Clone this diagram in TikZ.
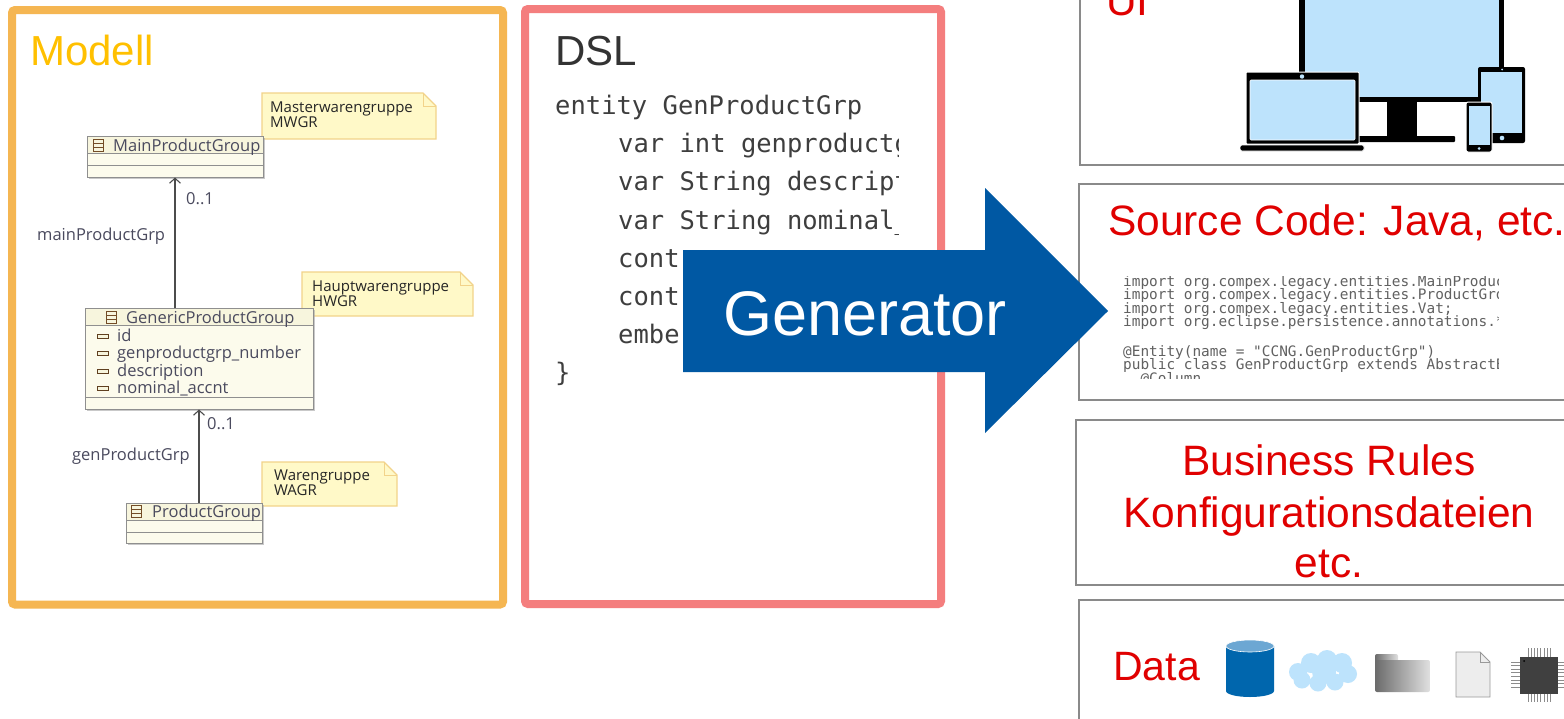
\documentclass[tikz,border=0pt]{standalone}
\usepackage{fontspec}
\setmainfont{Liberation Sans}
\setmonofont{DejaVu Sans Mono}
\newfontfamily\umlfont{Open Sans}
\usetikzlibrary{arrows.meta,shadows}

\definecolor{modellorange}{HTML}{F5B652}
\definecolor{modelltitle}{HTML}{FFC000}
\definecolor{dslpink}{HTML}{F47E7E}
\definecolor{genblue}{HTML}{0058A3}
\definecolor{outred}{HTML}{E00000}
\definecolor{outgray}{HTML}{8A8A8A}
\definecolor{screenblue}{HTML}{BDE3FC}
\definecolor{classfill}{HTML}{FCFBEC}
\definecolor{classhead}{HTML}{F7F5DD}
\definecolor{classline}{HTML}{8F8F8F}
\definecolor{notefill}{HTML}{FFF9C8}
\definecolor{noteline}{HTML}{F2D38A}
\definecolor{umltext}{HTML}{4A4A5E}
\definecolor{codegray}{HTML}{3E3E3E}
\definecolor{dbblue}{HTML}{0066AD}
\definecolor{dbtop}{HTML}{6CA7D3}

\begin{document}
\begin{tikzpicture}[x=1pt,y=-1pt,
  frame/.style={draw, line width=8pt, rounded corners=3pt, inner sep=0pt},
  outbox/.style={draw=outgray, line width=2.2pt},
  title/.style={anchor=base west, inner sep=0pt, font=\fontsize{42}{48}\selectfont},
  outtext/.style={inner sep=0pt, text=outred, font=\fontsize{42.5}{50}\selectfont},
  classbox/.style={draw=classline, line width=1pt, fill=classfill, inner sep=0pt,
    drop shadow={shadow xshift=1.5pt, shadow yshift=-1.5pt, fill=black!35, opacity=0.6}},
  classname/.style={anchor=base west, inner sep=0pt, text=umltext, font=\umlfont\fontsize{16.5}{18}\selectfont},
  attr/.style={anchor=base west, inner sep=0pt, text=umltext, font=\umlfont\fontsize{16.5}{18}\selectfont},
  notetext/.style={anchor=base west, inner sep=0pt, text=black!85, font=\umlfont\fontsize{15}{17}\selectfont},
  notebox/.style={fill=notefill, draw=noteline, line width=1.2pt},
  umlarrow/.style={draw=black!70, line width=1.1pt, -{Straight Barb[length=5pt,width=11pt,line width=1.1pt]}},
  dslcode/.style={anchor=base west, inner sep=0pt, text=codegray, font=\ttfamily\fontsize{25.5}{30}\selectfont},
  javacode/.style={anchor=base west, inner sep=0pt, text=black!62, font=\ttfamily\fontsize{14.4}{16}\selectfont},
  icon/.style={draw=brown!60!black, line width=0.8pt},
  attricon/.style={draw=brown!50!black, line width=0.8pt, fill=classhead}
]
\useasboundingbox (0,0) rectangle (1564,718);
\clip (0,0) rectangle (1564,718);
\fill[white] (0,0) rectangle (1564,718);

% ---------------- Modell frame ----------------
\node[frame, draw=modellorange, minimum width=491pt, minimum height=594.5pt] (modell) at (257.5,307.25) {};
\node[title, text=modelltitle] (modelltitle) at (30,65) {Modell};

% notes next to the classes they annotate
\path[notebox] (262,93) -- (423,93) -- (436,106) -- (436,139) -- (262,139) -- cycle;
\draw[noteline, line width=1pt] (423,93) -- (423,106) -- (436,106);
\node[notetext] (n1a) at (270,112) {Masterwarengruppe};
\node[notetext] (n1b) at (270,127) {MWGR};

\path[notebox] (302,272) -- (460,272) -- (473,285) -- (473,316) -- (302,316) -- cycle;
\draw[noteline, line width=1pt] (460,272) -- (460,285) -- (473,285);
\node[notetext] (n2a) at (312,291) {Hauptwarengruppe};
\node[notetext] (n2b) at (312,306) {HWGR};

\path[notebox] (262,462) -- (384,462) -- (397,475) -- (397,506) -- (262,506) -- cycle;
\draw[noteline, line width=1pt] (384,462) -- (384,475) -- (397,475);
\node[notetext] (n3a) at (274,480) {Warengruppe};
\node[notetext] (n3b) at (274,495) {WAGR};

% MainProductGroup
\node[classbox, minimum width=176pt, minimum height=41pt] (mpg) at (175,156.5) {};
\fill[classhead] (87.5,136.5) rectangle (262.5,153);
\draw[classline, line width=1pt] (87,153) -- (263,153) (87,165) -- (263,165);
\draw[icon] (93,139) rectangle (103,151) (93,143) -- (103,143) (93,147) -- (103,147);
\node[classname] (mpgname) at (113,151) {MainProductGroup};

% GenericProductGroup
\node[classbox, minimum width=228pt, minimum height=101pt] (gpg) at (199,358.5) {};
\fill[classhead] (85.5,308.5) rectangle (312.5,325);
\draw[classline, line width=1pt] (85,325) -- (313,325) (85,397) -- (313,397);
\draw[icon] (106,311) rectangle (116,323) (106,315) -- (116,315) (106,319) -- (116,319);
\node[classname] (gpgname) at (126,323) {GenericProductGroup};
\foreach \y/\t/\n in {336/id/a1, 353/genproductgrp\_number/a2, 371/description/a3, 388/nominal\_accnt/a4}{
  \draw[attricon] (97,\y-2) rectangle (108,\y+2);
  \node[attr] (\n) at (117,\y+5) {\t};
}

% ProductGroup
\node[classbox, minimum width=136pt, minimum height=40pt] (pg) at (194,523) {};
\fill[classhead] (126.5,503.5) rectangle (261.5,520);
\draw[classline, line width=1pt] (126,520) -- (262,520) (126,532) -- (262,532);
\draw[icon] (131,505) rectangle (141,517) (131,509) -- (141,509) (131,513) -- (141,513);
\node[classname] (pgname) at (152,517) {ProductGroup};

% associations
\draw[umlarrow] (gpg.north -| mpg.south) -- (mpg.south);
\node[attr] (m1) at (186,204) {0..1};
\node[attr] (r1) at (37,240) {mainProductGrp};
\draw[umlarrow] (pg.north -| gpg.south) -- (gpg.south);
\node[attr] (m2) at (207,429) {0..1};
\node[attr] (r2) at (72,460) {genProductGrp};

% ---------------- DSL frame ----------------
\node[frame, draw=dslpink, minimum width=416pt, minimum height=595pt] (dsl) at (733,306.5) {};
\node[title, text=black!80] (dsltitle) at (555,65) {DSL};
\begin{scope}
  \clip (545,80) rectangle (898,400);
  \node[dslcode] (c1) at (555,114) {entity GenProductGrp};
  \node[dslcode] (c2) at (618,152) {var int genproductgrp\_number};
  \node[dslcode] (c3) at (618,190) {var String description};
  \node[dslcode] (c4) at (618,229) {var String nominal\_accnt};
  \node[dslcode] (c5) at (618,267) {cont};
  \node[dslcode] (c6) at (618,305) {cont};
  \node[dslcode] (c7) at (618,343) {embe};
  \node[dslcode] (c8) at (555,381) {\}};
\end{scope}

% ---------------- output boxes ----------------
\draw[outbox] (1080,-10) rectangle (1590,165);
\node[outtext, anchor=base west] (ui) at (1106,15) {UI};

% devices: monitor
\fill[black] (1299,-10) rectangle (1504,102);
\fill[screenblue] (1305,-10) rectangle (1499,97);
\fill[black] (1387,100) rectangle (1417,139);
\fill[black, rounded corners=1pt] (1358,136) rectangle (1455,142);
% laptop
\fill[black, rounded corners=1pt, draw=white, line width=1pt] (1246,72) rectangle (1359,144);
\fill[screenblue, draw=white, line width=0.6pt, rounded corners=1pt] (1250,80) rectangle (1355,140);
\fill[screenblue] (1302,76.5) circle (2.2);
\fill[black, rounded corners=1.5pt, draw=white, line width=0.8pt] (1240,145) rectangle (1364,151);
% tablet
\fill[black, rounded corners=2pt] (1478,67) rectangle (1525,143);
\fill[screenblue] (1481,72) rectangle (1522,133);
\fill[screenblue] (1502,138) circle (2.3);
\fill[screenblue] (1502,69.5) circle (1);
% phone
\fill[black, rounded corners=2pt, draw=white, line width=1pt] (1466,102) rectangle (1492,152);
\fill[screenblue] (1469,106) rectangle (1490,145);
\fill[screenblue] (1479,148.5) circle (1.5);

% source code box
\draw[outbox] (1079,184) rectangle (1590,400);
\node[outtext, anchor=base west] (src) at (1108,235) {Source Code: Java, etc.};
\begin{scope}
  \clip (1118,276) rectangle (1498,378);
  \node[javacode] (j0) at (1123,273) {import org.compex.legacy.entities.GenericProduct;};
  \node[javacode] (j1) at (1123,286) {import org.compex.legacy.entities.MainProductGroup;};
  \node[javacode] (j2) at (1123,299.5) {import org.compex.legacy.entities.ProductGroup;};
  \node[javacode] (j3) at (1123,313) {import org.compex.legacy.entities.Vat;};
  \node[javacode] (j4) at (1123,326.5) {import org.eclipse.persistence.annotations.*;};
  \node[javacode] (j5) at (1123,356) {@Entity(name = "CCNG.GenProductGrp")};
  \node[javacode] (j6) at (1123,369.5) {public class GenProductGrp extends AbstractEntity \{};
  \node[javacode] (j7) at (1123,383) {\ \ @Column};
\end{scope}

% business rules box
\draw[outbox] (1076,420) rectangle (1590,585);
\node[outtext, anchor=base] (br1) at (1329,475) {Business Rules};
\node[outtext, anchor=base] (br2) at (1329,527) {Konfigurationsdateien};
\node[outtext, anchor=base] (br3) at (1329,577) {etc.};

% data box
\draw[outbox] (1079,600) rectangle (1590,740);
\node[outtext, anchor=base west, font=\fontsize{41}{50}\selectfont] (data) at (1113,680) {Data};
% database
\fill[dbblue] (1226,646) -- (1226,691) arc[start angle=180, end angle=360, x radius=24, y radius=-6] -- (1274,646) -- cycle;
\fill[dbtop, draw=white, line width=0.6pt] (1250,646) ellipse [x radius=24, y radius=6];
% cloud
\fill[screenblue] (1298,672) circle (9) (1311,663) circle (10) (1327,660) circle (10)
  (1342,663) circle (10) (1348,674) circle (9) (1335,682) circle (8.5) (1318,683) circle (8.5) (1302,680) circle (8.5)
  (1324,672) circle (12);
% folder
\shade[left color=black!58, right color=black!12, rounded corners=2pt] (1375,654) rectangle (1398,664);
\shade[left color=black!58, right color=black!12, rounded corners=2pt] (1375,660) rectangle (1430,692);
% document
\filldraw[fill=black!7, draw=black!40, line width=0.8pt] (1456,652) -- (1480,652) -- (1490,662) -- (1490,697) -- (1456,697) -- cycle;
\draw[black!40, line width=0.8pt] (1480,652) -- (1480,662) -- (1490,662);
% chip
\foreach \i in {0,...,7}{
  \draw[black!45, line width=0.7pt] (1528+3.2*\i,648) -- (1528+3.2*\i,657);
  \draw[black!45, line width=0.7pt] (1528+3.2*\i,694) -- (1528+3.2*\i,702);
  \draw[black!45, line width=0.7pt] (1511,662+3.6*\i) -- (1520,662+3.6*\i);
  \draw[black!45, line width=0.7pt] (1558,662+3.6*\i) -- (1567,662+3.6*\i);
}
\fill[black!75] (1520,657) rectangle (1558,694);
\fill[black] (1524,661) circle (1);

% ---------------- generator arrow ----------------
\fill[genblue] (683,250) -- (985,250) -- (985,188) -- (1108,311) -- (985,433) -- (985,372) -- (683,372) -- cycle;
\node[anchor=base, inner sep=0pt, text=white, font=\fontsize{63}{70}\selectfont] (gen) at (865,335) {Generator};

\end{tikzpicture}
\end{document}
